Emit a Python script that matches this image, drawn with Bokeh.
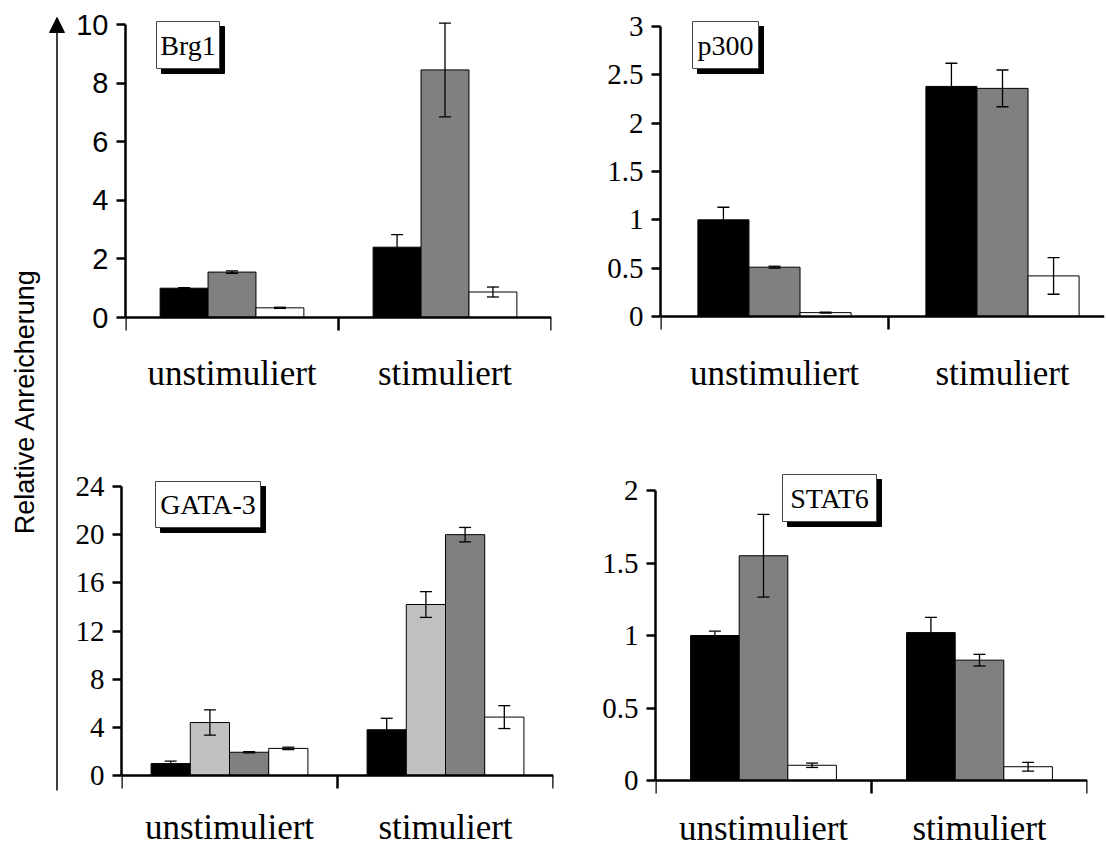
import math
from bokeh.plotting import figure
from bokeh.layouts import row, column
from bokeh.models import (Range1d, LinearAxis, FixedTicker, NumeralTickFormatter,
                          Whisker, TeeHead, ColumnDataSource, Arrow, NormalHead)
from bokeh.core.properties import value
from bokeh.embed import file_html
from bokeh.resources import INLINE

# ---------------- data ----------------
categories = ["unstimuliert", "stimuliert"]
y_label = "Relative Anreicherung"

brg1_black = [1.0, 2.4]
brg1_black_err = [0.02, 0.43]
brg1_gray = [1.55, 8.45]
brg1_gray_err = [0.04, 1.6]
brg1_white = [0.33, 0.87]
brg1_white_err = [0.02, 0.17]
brg1_ticks = [0, 2, 4, 6, 8, 10]

p300_black = [1.0, 2.38]
p300_black_err = [0.13, 0.24]
p300_gray = [0.51, 2.36]
p300_gray_err = [0.01, 0.19]
p300_white = [0.04, 0.42]
p300_white_err = [0.005, 0.19]
p300_ticks = [0, 0.5, 1, 1.5, 2, 2.5, 3]

gata_black = [0.99, 3.8]
gata_black_err = [0.2, 0.95]
gata_light = [4.4, 14.2]
gata_light_err = [1.05, 1.07]
gata_gray = [1.93, 20.0]
gata_gray_err = [0.05, 0.6]
gata_white = [2.25, 4.85]
gata_white_err = [0.1, 0.95]
gata_ticks = [0, 4, 8, 12, 16, 20, 24]

stat6_black = [1.0, 1.02]
stat6_black_err = [0.03, 0.105]
stat6_gray = [1.55, 0.83]
stat6_gray_err = [0.285, 0.04]
stat6_white = [0.105, 0.095]
stat6_white_err = [0.015, 0.03]
stat6_ticks = [0, 0.5, 1, 1.5, 2]

BLACK, GRAY, LIGHT, WHITE = "#000000", "#808080", "#c0c0c0", "#ffffff"
SERIF = "Liberation Serif"
SANS = "Liberation Sans"


def panel(geom, series, ticks, title, box, tick_font, tick_size, bar_w, cat_drop):
    fx, fy, w, h, L, R, T, axis_top, zero, cat_px = geom
    ymax = ticks[-1]
    upp = ymax / (zero - axis_top)          # data units per pixel
    y_end = (zero - T) * upp
    y_start = -(fy + h - zero) * upp        # frame reaches the figure bottom
    x_end = (R - L) / cat_px
    p = figure(width=w, height=h, output_backend="svg", toolbar_location=None,
               x_axis_type=None, y_axis_type=None,
               x_range=Range1d(0, x_end), y_range=Range1d(y_start, y_end),
               min_border_left=L - fx, min_border_right=fx + w - R,
               min_border_top=T - fy, min_border_bottom=0,
               outline_line_color=None, background_fill_color="white",
               border_fill_color="white")
    p.xgrid.visible = False
    p.ygrid.visible = False

    n = len(series)
    for j, (vals, errs, color) in enumerate(series):
        xs = [i + 0.5 + (j - (n - 1) / 2) * bar_w for i in range(len(categories))]
        p.vbar(x=xs, top=vals, bottom=0, width=bar_w, fill_color=color,
               line_color="black", line_width=1)
        src = ColumnDataSource(dict(x=xs, upper=[v + e for v, e in zip(vals, errs)],
                                    lower=[v - e for v, e in zip(vals, errs)]))
        p.add_layout(Whisker(source=src, base="x", upper="upper", lower="lower",
                             line_color="black", line_width=1.3, level="annotation",
                             upper_head=TeeHead(size=12, line_width=1.3, line_color="black"),
                             lower_head=TeeHead(size=12, line_width=1.3, line_color="black")))

    yax = LinearAxis(ticker=FixedTicker(ticks=ticks, minor_ticks=[]),
                     formatter=NumeralTickFormatter(format="0.[0]"),
                     bounds=(0, ymax), axis_line_width=2.5, axis_line_color="black",
                     major_tick_line_width=2.5, major_tick_out=9, major_tick_in=0,
                     minor_tick_out=0, minor_tick_in=0, major_label_standoff=8,
                     major_label_text_font=tick_font, major_label_text_font_size=tick_size,
                     major_label_text_color="black")
    p.add_layout(yax, "left")

    # category axis drawn at y = 0, boundary ticks pointing down
    centers = [i + 0.5 for i in range(len(categories))]
    bounds_t = [float(i) for i in range(len(categories) + 1)]
    xax = LinearAxis(fixed_location=0, ticker=FixedTicker(ticks=bounds_t, minor_ticks=[]),
                     axis_line_width=2.5, axis_line_color="black",
                     major_tick_out=0, major_tick_in=13, major_tick_line_width=2.5,
                     minor_tick_out=0, minor_tick_in=0,
                     major_label_standoff=0, major_label_text_font_size="0px",
                     major_label_text_alpha=0)
    p.add_layout(xax, "above")

    p.text(x=centers, y=[-cat_drop * upp] * len(centers), text=categories,
           text_align="center", text_baseline="alphabetic",
           text_font=value(SERIF), text_font_size="35px", text_color="black")

    # title box with drop shadow (positions given in page pixels)
    cx, cy, bw, bh = box
    def px2x(px):
        return (px - L) / cat_px
    def px2y(py):
        return (zero - py) * upp
    p.rect(x=[px2x(cx + 5)], y=[px2y(cy + 5)], width=bw, height=bh,
           width_units="screen", height_units="screen",
           fill_color="black", line_color="black")
    p.rect(x=[px2x(cx)], y=[px2y(cy)], width=bw, height=bh,
           width_units="screen", height_units="screen",
           fill_color="white", line_color="#444444", line_width=1)
    p.text(x=[px2x(cx)], y=[px2y(cy)], text=[title], text_align="center",
           text_baseline="middle", text_font=value(SERIF), text_font_size="28px",
           text_color="black")
    return p


p1 = panel((66, 0, 487, 420, 125, 551, 14, 24, 317, 213),
           [(brg1_black, brg1_black_err, BLACK), (brg1_gray, brg1_gray_err, GRAY),
            (brg1_white, brg1_white_err, WHITE)],
           brg1_ticks, "Brg1", (187.5, 44.5, 63, 47), SANS, "29px", 0.225, 56)

p2 = panel((553, 0, 553, 420, 660, 1104, 14, 26, 316, 228),
           [(p300_black, p300_black_err, BLACK), (p300_gray, p300_gray_err, GRAY),
            (p300_white, p300_white_err, WHITE)],
           p300_ticks, "p300", (725, 44.5, 66, 47), SERIF, "29px", 0.224, 57)

p3 = panel((66, 420, 489, 427, 121, 553, 466, 486, 775, 216),
           [(gata_black, gata_black_err, BLACK), (gata_light, gata_light_err, LIGHT),
            (gata_gray, gata_gray_err, GRAY), (gata_white, gata_white_err, WHITE)],
           gata_ticks, "GATA-3", (207.5, 504, 105, 46), SERIF, "29px", 0.1815, 52)

p4 = panel((555, 420, 551, 427, 655, 1087, 466, 490, 780, 216),
           [(stat6_black, stat6_black_err, BLACK), (stat6_gray, stat6_gray_err, GRAY),
            (stat6_white, stat6_white_err, WHITE)],
           stat6_ticks, "STAT6", (829, 497.5, 94, 47), SERIF, "29px", 0.225, 48)

# left strip with the shared axis title and arrow (page pixel coordinates)
H = 847
lab = figure(width=66, height=H, output_backend="svg", toolbar_location=None,
             x_axis_type=None, y_axis_type=None,
             x_range=Range1d(0, 66), y_range=Range1d(0, H),
             min_border=0, outline_line_color=None)
lab.xgrid.visible = False
lab.ygrid.visible = False
lab.add_layout(Arrow(x_start=56.5, y_start=H - 790, x_end=56.5, y_end=H - 17,
                     line_color="black", line_width=1.5,
                     end=NormalHead(size=15, fill_color="black", line_color="black")))
lab.text(x=[24], y=[H - 401], text=[y_label], angle=math.pi / 2,
         text_align="center", text_baseline="middle",
         text_font=value(SANS), text_font_size="27px", text_color="black")

layout = row(lab, column(row(p1, p2), row(p3, p4)))
open("out.html", "w").write(file_html(layout, INLINE))
